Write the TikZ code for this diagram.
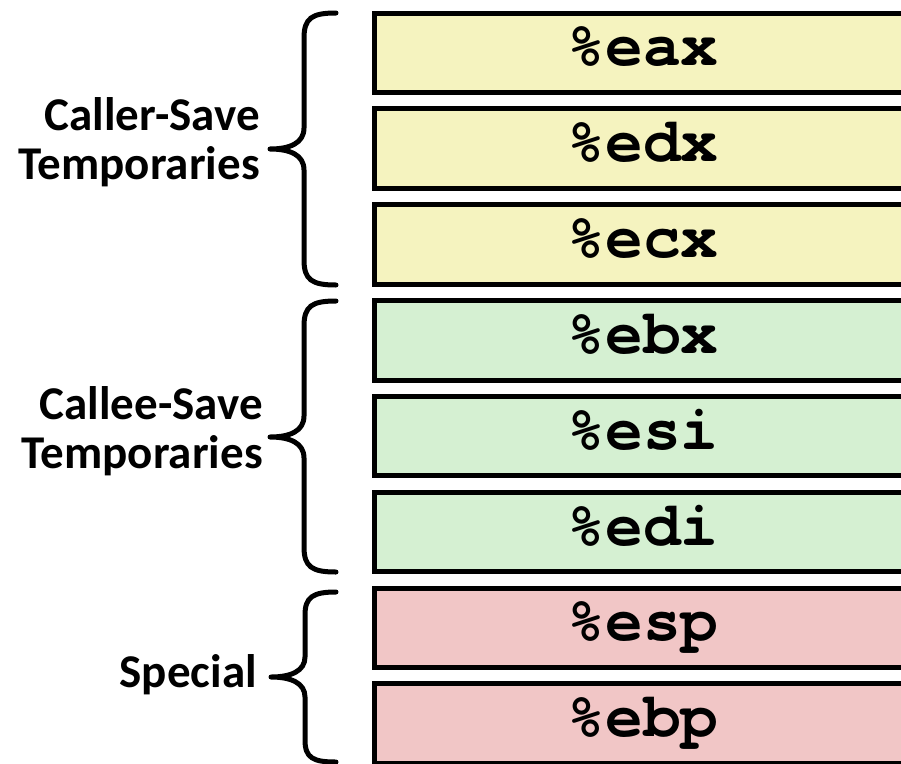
\documentclass[tikz,border=0pt]{standalone}
\usepackage{fontspec}
\newfontfamily\regfont{TeX Gyre Cursor}
\newfontfamily\labfont{Carlito}
\definecolor{regyellow}{RGB}{245,243,191}
\definecolor{reggreen}{RGB}{213,240,210}
\definecolor{regpink}{RGB}{241,198,198}
\tikzset{
  regbox/.style={draw=black, line width=5pt, minimum width=538pt, minimum height=79.5pt,
    inner sep=0pt, font=\regfont\bfseries\fontsize{63}{63}\selectfont,
    text height=37pt, text depth=11pt},
  grplabel/.style={anchor=base east, inner sep=0pt, font=\labfont\bfseries\fontsize{47}{49.5}\selectfont},
  bracepath/.style={draw=black, line width=5pt, line cap=round, line join=round}
}
\begin{document}
\begin{tikzpicture}[x=1pt,y=-1pt]
\useasboundingbox (0,0) rectangle (901,763);
% register boxes (tops at 13 + 95.85 i)
\node[regbox, fill=regyellow] (eax) at (643, 52.75) {\%eax};
\node[regbox, fill=regyellow] (edx) at (643, 148.6) {\%edx};
\node[regbox, fill=regyellow] (ecx) at (643, 244.45) {\%ecx};
\node[regbox, fill=reggreen] (ebx) at (643, 340.3) {\%ebx};
\node[regbox, fill=reggreen] (esi) at (643, 436.15) {\%esi};
\node[regbox, fill=reggreen] (edi) at (643, 532.0) {\%edi};
\node[regbox, fill=regpink] (esp) at (643, 627.85) {\%esp};
\node[regbox, fill=regpink] (ebp) at (643, 723.7) {\%ebp};
% braces
\coordinate (b1top) at (336,13);
\coordinate (b1tip) at (270,149);
\coordinate (b1bot) at (336,285);
\coordinate (b2top) at (336,301);
\coordinate (b2tip) at (270,437);
\coordinate (b2bot) at (336,572);
\coordinate (b3top) at (336,592);
\coordinate (b3tip) at (271,677);
\coordinate (b3bot) at (336,762);
\draw[bracepath] (b1top) .. controls (312,13) and (304,18) .. (304,38) -- (304,128)
  .. controls (304,143) and (290,149) .. (b1tip)
  .. controls (290,149) and (304,155) .. (304,170) -- (304,260)
  .. controls (304,280) and (312,285) .. (b1bot);
\draw[bracepath] (b2top) .. controls (312,301) and (304,306) .. (304,326) -- (304,416)
  .. controls (304,431) and (290,437) .. (b2tip)
  .. controls (290,437) and (304,443) .. (304,458) -- (304,547)
  .. controls (304,567) and (312,572) .. (b2bot);
\draw[bracepath] (b3top) .. controls (313,592) and (305,597) .. (305,615) -- (305,657)
  .. controls (305,671) and (291,677) .. (b3tip)
  .. controls (291,677) and (305,683) .. (305,697) -- (305,740)
  .. controls (305,758) and (313,762) .. (b3bot);
% labels
\node[grplabel] (caller) at (260,130) {\begin{tabular}[t]{@{}r@{}}Caller-Save\\Temporaries\end{tabular}};
\node[grplabel] (callee) at (263,419) {\begin{tabular}[t]{@{}r@{}}Callee-Save\\Temporaries\end{tabular}};
\node[grplabel] (special) at (257,687) {Special};
\end{tikzpicture}
\end{document}
